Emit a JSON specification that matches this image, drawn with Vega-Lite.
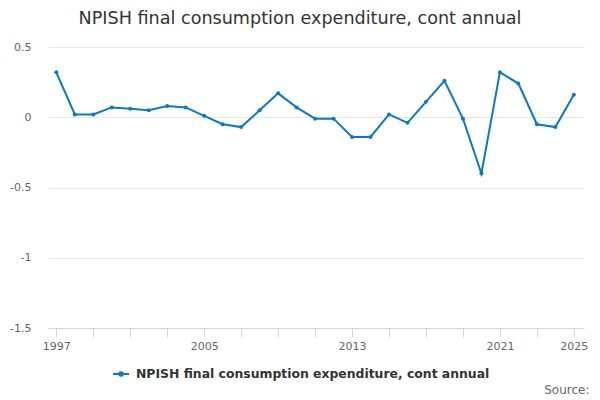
{
  "$schema": "https://vega.github.io/schema/vega-lite/v6.json",
  "autosize": {"type": "none"},
  "width": 536,
  "height": 281,
  "padding": {"left": 48, "top": 47, "right": 16, "bottom": 72},
  "title": {
    "text": "NPISH final consumption expenditure, cont annual",
    "fontSize": 17.6,
    "fontWeight": "normal",
    "color": "#333333",
    "anchor": "middle",
    "dx": -16,
    "baseline": "alphabetic",
    "offset": -1
  },
  "config": {
    "font": "DejaVu Sans",
    "view": {"stroke": null}
  },
  "data": {
    "values": [
      {"year": 1997, "value": 0.32, "series": "NPISH final consumption expenditure, cont annual"},
      {"year": 1998, "value": 0.02, "series": "NPISH final consumption expenditure, cont annual"},
      {"year": 1999, "value": 0.02, "series": "NPISH final consumption expenditure, cont annual"},
      {"year": 2000, "value": 0.07, "series": "NPISH final consumption expenditure, cont annual"},
      {"year": 2001, "value": 0.06, "series": "NPISH final consumption expenditure, cont annual"},
      {"year": 2002, "value": 0.05, "series": "NPISH final consumption expenditure, cont annual"},
      {"year": 2003, "value": 0.08, "series": "NPISH final consumption expenditure, cont annual"},
      {"year": 2004, "value": 0.07, "series": "NPISH final consumption expenditure, cont annual"},
      {"year": 2005, "value": 0.01, "series": "NPISH final consumption expenditure, cont annual"},
      {"year": 2006, "value": -0.05, "series": "NPISH final consumption expenditure, cont annual"},
      {"year": 2007, "value": -0.07, "series": "NPISH final consumption expenditure, cont annual"},
      {"year": 2008, "value": 0.05, "series": "NPISH final consumption expenditure, cont annual"},
      {"year": 2009, "value": 0.17, "series": "NPISH final consumption expenditure, cont annual"},
      {"year": 2010, "value": 0.07, "series": "NPISH final consumption expenditure, cont annual"},
      {"year": 2011, "value": -0.01, "series": "NPISH final consumption expenditure, cont annual"},
      {"year": 2012, "value": -0.01, "series": "NPISH final consumption expenditure, cont annual"},
      {"year": 2013, "value": -0.14, "series": "NPISH final consumption expenditure, cont annual"},
      {"year": 2014, "value": -0.14, "series": "NPISH final consumption expenditure, cont annual"},
      {"year": 2015, "value": 0.02, "series": "NPISH final consumption expenditure, cont annual"},
      {"year": 2016, "value": -0.04, "series": "NPISH final consumption expenditure, cont annual"},
      {"year": 2017, "value": 0.11, "series": "NPISH final consumption expenditure, cont annual"},
      {"year": 2018, "value": 0.26, "series": "NPISH final consumption expenditure, cont annual"},
      {"year": 2019, "value": -0.01, "series": "NPISH final consumption expenditure, cont annual"},
      {"year": 2020, "value": -0.40, "series": "NPISH final consumption expenditure, cont annual"},
      {"year": 2021, "value": 0.32, "series": "NPISH final consumption expenditure, cont annual"},
      {"year": 2022, "value": 0.24, "series": "NPISH final consumption expenditure, cont annual"},
      {"year": 2023, "value": -0.05, "series": "NPISH final consumption expenditure, cont annual"},
      {"year": 2024, "value": -0.07, "series": "NPISH final consumption expenditure, cont annual"},
      {"year": 2025, "value": 0.16, "series": "NPISH final consumption expenditure, cont annual"}
    ]
  },
  "mark": {
    "type": "line",
    "strokeWidth": 2,
    "point": {"filled": true, "size": 16}
  },
  "encoding": {
    "x": {
      "field": "year",
      "type": "quantitative",
      "scale": {"domain": [1996.55, 2025.55], "nice": false, "zero": false},
      "axis": {
        "title": "Source:",
        "titleAnchor": "end",
        "titleAlign": "right",
        "titleBaseline": "alphabetic",
        "titleFontSize": 12,
        "titleFontWeight": "normal",
        "titleColor": "#666666",
        "titleX": 541,
        "titleY": 65.7,
        "values": [1997, 1999, 2001, 2003, 2005, 2007, 2009, 2011, 2013, 2015, 2017, 2019, 2021, 2023, 2025],
        "labelExpr": "indexof([1997, 2005, 2013, 2021, 2025], datum.value) >= 0 ? toString(datum.value) : ''",
        "labelOverlap": false,
        "labelFlush": false,
        "labelFontSize": 11,
        "labelColor": "#666666",
        "labelPadding": 3,
        "grid": false,
        "domainColor": "#ccd6eb",
        "tickColor": "#ccd6eb",
        "tickSize": 9
      }
    },
    "y": {
      "field": "value",
      "type": "quantitative",
      "scale": {"domain": [-1.5, 0.5], "nice": false},
      "axis": {
        "title": null,
        "values": [-1.5, -1, -0.5, 0, 0.5],
        "labelExpr": "toString(datum.value)",
        "labelFontSize": 11,
        "labelColor": "#666666",
        "labelPadding": 17,
        "ticks": false,
        "domain": false,
        "gridColor": "#e6e6e6"
      }
    },
    "color": {
      "field": "series",
      "type": "nominal",
      "scale": {"range": ["#0a7bc1"]},
      "legend": {
        "title": null,
        "orient": "none",
        "legendX": 64,
        "legendY": 318,
        "padding": 0,
        "labelFontSize": 12.4,
        "labelFontWeight": "bold",
        "labelColor": "#333333",
        "labelOffset": 6,
        "labelLimit": 0,
        "symbolType": "M-1,0H1M-0.22,0A0.22,0.22 0 1,0 0.22,0A0.22,0.22 0 1,0 -0.22,0",
        "symbolSize": 256,
        "symbolStrokeWidth": 2,
        "symbolFillColor": "#0a7bc1",
        "symbolStrokeColor": "#0a7bc1"
      }
    }
  }
}
